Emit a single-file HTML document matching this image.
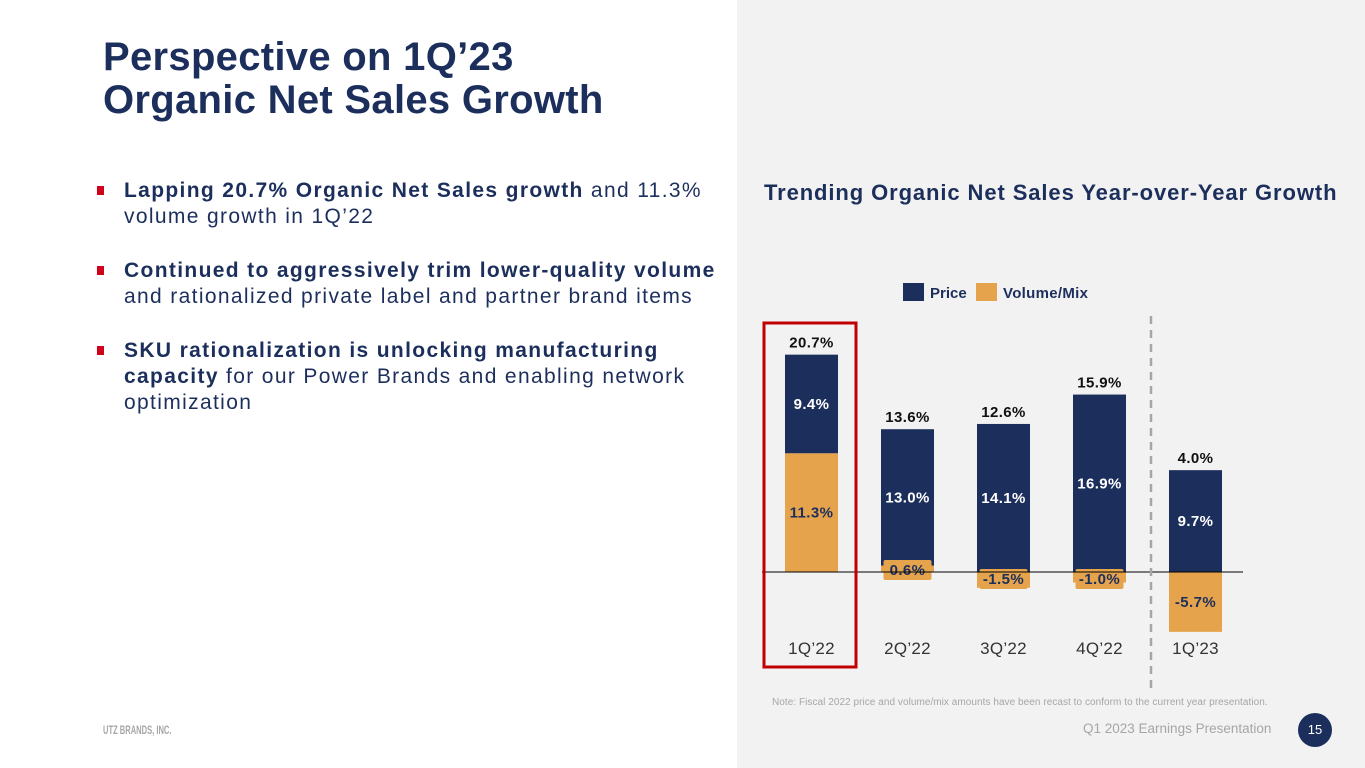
<!DOCTYPE html>
<html><head><meta charset="utf-8"><style>
body{margin:0;width:1365px;height:768px;position:relative;overflow:hidden;background:#fff;font-family:"Liberation Sans",sans-serif;color:#1c2f5c}
.panel{position:absolute;left:737px;top:0;width:628px;height:768px;background:#f2f2f2}
h1{position:absolute;left:103px;top:36px;margin:0;font-size:40px;line-height:43px;font-weight:bold;color:#1c2f5c;letter-spacing:0.3px;white-space:nowrap}
.bul{position:absolute;left:124px;width:640px;font-size:21px;line-height:26px;color:#1c2f5c;letter-spacing:1.35px;white-space:nowrap}
.bul b{font-weight:bold;letter-spacing:1.35px}
.sq{position:absolute;left:-27px;top:8px;width:7px;height:9px;background:#d0021b}
svg{position:absolute;left:0;top:0}
</style></head><body>
<div class="panel"></div>
<h1>Perspective on 1Q’23<br>Organic Net Sales Growth</h1>
<div class="bul" style="top:178px"><span class="sq"></span><b>Lapping 20.7% Organic Net Sales growth</b> and 11.3%<br>volume growth in 1Q’22</div>
<div class="bul" style="top:258px"><span class="sq"></span><b>Continued to aggressively trim lower-quality volume</b><br>and rationalized private label and partner brand items</div>
<div class="bul" style="top:338px"><span class="sq"></span><b>SKU rationalization is unlocking manufacturing</b><br><b>capacity</b> for our Power Brands and enabling network<br>optimization</div>
<div style="position:absolute;left:103px;top:723px;font-size:12px;font-weight:bold;color:#a6a6a6;transform:scaleX(0.63);transform-origin:left">UTZ BRANDS, INC.</div>
<div style="position:absolute;left:1083px;top:721px;font-size:13.5px;color:#a6a6a6">Q1 2023 Earnings Presentation</div>
<div style="position:absolute;left:1298px;top:713px;width:34px;height:34px;border-radius:50%;background:#1c2f5c;color:#fff;font-size:13px;line-height:34px;text-align:center">15</div>
<svg id="chart" width="1365" height="768"></svg>
<script>
const categories=["1Q’22","2Q’22","3Q’22","4Q’22","1Q’23"];
const price=[9.4,13.0,14.1,16.9,9.7];
const volume=[11.3,0.6,-1.5,-1.0,-5.7];
const totals=[20.7,13.6,12.6,15.9,4.0];
const NS="http://www.w3.org/2000/svg";
const svg=document.getElementById('chart');
const base=572, k=10.5, x0=785, step=96, bw=53;
const y=v=>base-v*k;
const xb=i=>x0+i*step;
function mk(t,a,txt){const e=document.createElementNS(NS,t);for(const n in a)e.setAttribute(n,a[n]);if(txt!==undefined)e.textContent=txt;svg.appendChild(e);return e;}
const NAVY="#1c2f5c",ORG="#e5a34c";
let e;
e=mk('text',{x:764,y:200,'font-size':22,'font-weight':'bold',fill:NAVY,'letter-spacing':'0.9'},'Trending Organic Net Sales Year-over-Year Growth');

e=mk('rect',{x:903,y:283,width:21,height:18,fill:NAVY});

e=mk('text',{x:930,y:298,'font-size':15,'font-weight':'bold',fill:NAVY},'Price');

e=mk('rect',{x:976,y:283,width:21,height:18,fill:ORG});

e=mk('text',{x:1003,y:298,'font-size':15,'font-weight':'bold',fill:NAVY,'letter-spacing':'0.3'},'Volume/Mix');

for(let i=0;i<categories.length;i++){
  const x=xb(i), cx=x+bw/2, v=volume[i], p=price[i];
  let r=mk('rect',{x:x,y:y(v>0?v+p:p),width:bw,height:p*k,fill:NAVY});
  
  const small=Math.abs(v)<3;
  if(v>0){
    r=mk('rect',{x:x,y:y(v),width:bw,height:v*k,fill:ORG});
  } else {
    r=mk('rect',{x:x,y:base,width:bw,height:-v*k,fill:ORG});
  }
  
  let ty=0;
  if(small){
    ty = v>0 ? base-2 : base+7;
    r=mk('rect',{x:cx-24,y:ty-10,width:48,height:20,rx:2,fill:ORG});
    
  }
  let t=mk('text',{x:cx,y:(small?ty:(y(v>0?v:0)+y(v>0?0:v))/2)+5,'text-anchor':'middle','font-size':15,'font-weight':'bold',fill:NAVY,'letter-spacing':'0.4'},v.toFixed(1)+'%');
  
  const pt=y(v>0?v+p:p), pbot=v>0?y(v):base;
  t=mk('text',{x:cx,y:(pt+pbot)/2+5,'text-anchor':'middle','font-size':15,'font-weight':'bold',fill:'#fff','letter-spacing':'0.4'},p.toFixed(1)+'%');
  
  t=mk('text',{x:cx,y:pt-7,'text-anchor':'middle','font-size':15,'font-weight':'bold',fill:'#111','letter-spacing':'0.4'},totals[i].toFixed(1)+'%');
  
  t=mk('text',{x:cx,y:654,'text-anchor':'middle','font-size':17,fill:'#333','letter-spacing':'0.3'},categories[i]);
  
}
e=mk('line',{x1:762,y1:base,x2:1243,y2:base,stroke:'#000','stroke-width':1});

e=mk('line',{x1:1151,y1:316,x2:1151,y2:690,stroke:'#a6a6a6','stroke-width':2.5,'stroke-dasharray':'8,6'});

e=mk('rect',{x:764,y:323,width:92,height:344,fill:'none',stroke:'#c00000','stroke-width':3});

e=mk('text',{x:772,y:705,'font-size':10,fill:'#a6a6a6','letter-spacing':'0.05'},'Note: Fiscal 2022 price and volume/mix amounts have been recast to conform to the current year presentation.');

</script>
</body></html>
